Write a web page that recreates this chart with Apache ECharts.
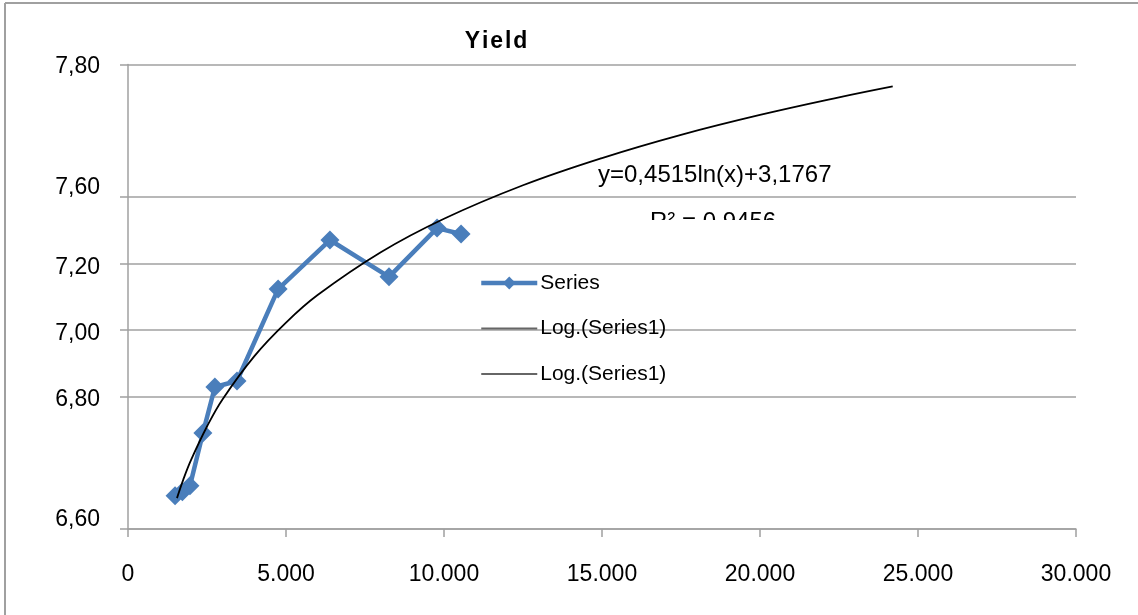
<!DOCTYPE html>
<html>
<head>
<meta charset="utf-8">
<script src="https://cdn.jsdelivr.net/npm/echarts@6/dist/echarts.min.js"></script>
<style>
html,body{margin:0;padding:0;background:#fff;}
#chart{width:1138px;height:615px;}
</style>
</head>
<body>
<div id="chart"></div>
<script>
// Data
var seriesX = [1490, 1720, 1960, 2370, 2750, 3450, 4750, 6390, 8260, 9780, 10540];
var seriesY = [6.500, 6.512, 6.530, 6.689, 6.828, 6.846, 7.123, 7.271, 7.160, 7.307, 7.289];

// Logarithmic trendline
var trendX = [1550, 1750, 2000, 2500, 3000, 4000, 5000, 6000, 8000, 10000, 12500, 15000, 17500, 20000, 22500, 24200];
var trendY = [6.493, 6.549, 6.609, 6.709, 6.792, 6.921, 7.022, 7.105, 7.234, 7.335, 7.436, 7.518, 7.588, 7.648, 7.701, 7.734];

// Tick labels
var xTickLabels = ['0', '5.000', '10.000', '15.000', '20.000', '25.000', '30.000'];
var yTickLabels = ['7,80', '7,60', '7,20', '7,00', '6,80', '6,60'];
var yLabelAt = [7.794, 7.430, 7.188, 6.988, 6.791, 6.427];
var yTickAt = [7.8, 7.4, 7.2, 7.0, 6.8, 6.4];

var titleText = 'Yield';
var equationText = 'y=0,4515ln(x)+3,1767';
var r2Text = 'R\u00B2 = 0,9456';
var legendNames = ['Series', 'Log.(Series1)', 'Log.(Series1) '];

function zip(a, b) { return a.map(function (v, i) { return [v, b[i]]; }); }

var FONT = '"Liberation Sans", Arial, sans-serif';
var lineIcon = 'path://M0,0H54V2H0Z';
var chart = echarts.init(document.getElementById('chart'), null, {renderer: 'canvas'});
var option = {
  animation: false,
  backgroundColor: '#fff',
  grid: {left: 128, right: 62, top: 64.5, bottom: 86, containLabel: false},
  xAxis: {
    type: 'value', min: 0, max: 30000, interval: 5000,
    axisLine: {show: true, lineStyle: {color: '#a0a0a0', width: 1.5}},
    axisTick: {show: true, length: 8, inside: false, lineStyle: {color: '#a0a0a0', width: 1.5}},
    splitLine: {show: false},
    axisLabel: {
      margin: 34, color: '#000', fontFamily: FONT, fontSize: 23,
      formatter: function (v, i) { return xTickLabels[i]; }
    }
  },
  yAxis: {
    type: 'value', min: 6.4, max: 7.8, interval: 0.2,
    axisLine: {show: true, lineStyle: {color: '#a0a0a0', width: 1.5}},
    axisTick: {show: true, length: 8, customValues: yTickAt, lineStyle: {color: '#a0a0a0', width: 1.5}},
    splitLine: {show: true, lineStyle: {color: '#a0a0a0', width: 1.5}},
    axisLabel: {
      margin: 28, color: '#000', fontFamily: FONT, fontSize: 23,
      customValues: yLabelAt,
      formatter: function (v) {
        for (var i = 0; i < yLabelAt.length; i++) {
          if (Math.abs(yLabelAt[i] - v) < 1e-6) return yTickLabels[i];
        }
        return '';
      }
    }
  },
  legend: {
    orient: 'vertical', left: 479, top: 272, padding: 0,
    itemWidth: 56, itemHeight: 16, itemGap: 23.5, symbolKeepAspect: true,
    textStyle: {fontFamily: FONT, fontSize: 21, color: '#000', lineHeight: 22, padding: [0, 0, 0, -2]},
    data: [
      {name: legendNames[0], lineStyle: {width: 4.5, color: '#4a7ebb'}},
      {name: legendNames[1], icon: lineIcon, itemStyle: {color: '#666'}},
      {name: legendNames[2], icon: lineIcon, itemStyle: {color: '#666'}}
    ]
  },
  series: [
    {
      name: legendNames[0], type: 'line', data: zip(seriesX, seriesY),
      symbol: 'diamond', symbolSize: 19,
      lineStyle: {color: '#4a7ebb', width: 4.5},
      itemStyle: {color: '#4a7ebb'},
      z: 3
    },
    {
      name: legendNames[1], type: 'line', data: zip(trendX, trendY),
      smooth: 0.4, showSymbol: false, symbol: 'none',
      lineStyle: {color: '#000', width: 1.8},
      itemStyle: {color: '#000'},
      z: 4
    },
    {
      name: legendNames[2], type: 'line', data: [],
      showSymbol: false, symbol: 'none',
      lineStyle: {color: '#000', width: 1.8},
      itemStyle: {color: '#000'}
    }
  ],
  graphic: [
    {type: 'line', shape: {x1: 5, y1: 3, x2: 1138, y2: 3}, style: {stroke: '#a0a0a0', lineWidth: 2}, z: 10},
    {type: 'line', shape: {x1: 5, y1: 3, x2: 5, y2: 615}, style: {stroke: '#a0a0a0', lineWidth: 2}, z: 10},
    {type: 'text', x: 496, y: 42, z: 10,
      style: {text: titleText.split('').join('\u200A'), fill: '#000', font: 'bold 23px ' + FONT, textAlign: 'center', textVerticalAlign: 'middle'}},
    {type: 'text', x: 598, y: 175, z: 10,
      style: {text: equationText, fill: '#000', font: '24px ' + FONT, textAlign: 'left', textVerticalAlign: 'middle'}},
    {type: 'text', x: 650, y: 222, z: 10,
      style: {text: r2Text, fill: '#000', font: '24px ' + FONT, textAlign: 'left', textVerticalAlign: 'middle'}},
    {type: 'rect', shape: {x: 640, y: 220, width: 170, height: 24}, style: {fill: '#fff'}, z: 11}
  ]
};
chart.setOption(option);
</script>
</body>
</html>
